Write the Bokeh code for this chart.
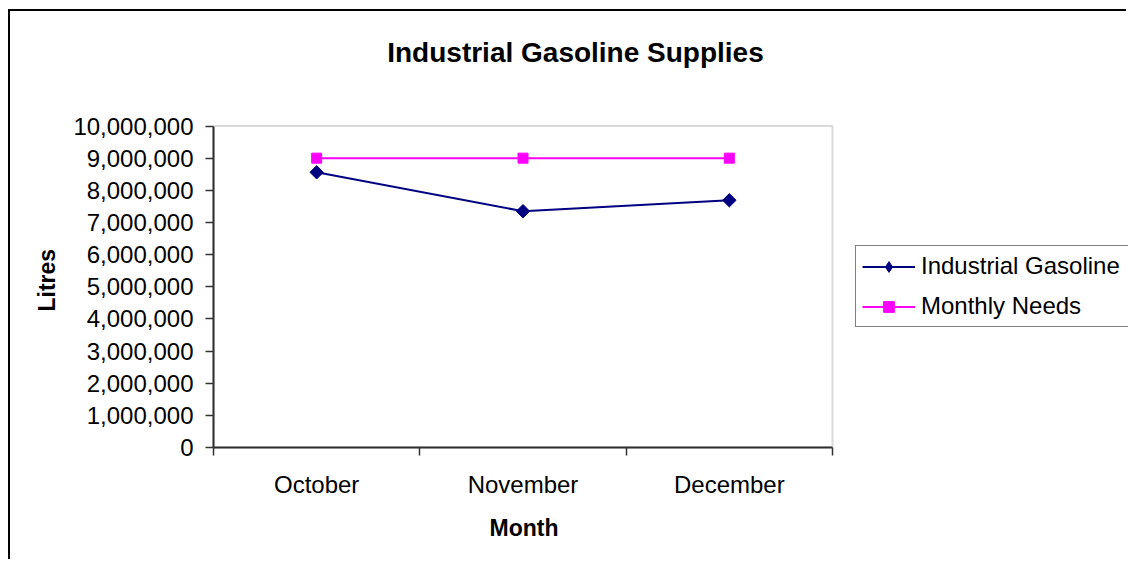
from bokeh.plotting import figure
from bokeh.models import (Range1d, FixedTicker, NumeralTickFormatter, Legend,
                          LegendItem, BoxAnnotation, Title, Label)
from bokeh.embed import file_html
from bokeh.resources import INLINE
import math

# ---- data ----
months = ["October", "November", "December"]
gasoline = [8_560_000, 7_350_000, 7_690_000]
needs = [9_000_000, 9_000_000, 9_000_000]
y_tick_values = [0, 1_000_000, 2_000_000, 3_000_000, 4_000_000, 5_000_000,
                 6_000_000, 7_000_000, 8_000_000, 9_000_000, 10_000_000]
title_text = "Industrial Gasoline Supplies"
x_title = "Month"
y_title = "Litres"
series_names = ["Industrial Gasoline", "Monthly Needs"]

xs = [i + 0.5 for i in range(len(months))]
boundaries = list(range(len(months) + 1))
y_max = y_tick_values[-1]

FONT = "Liberation Sans"

# ---- layout (pixels) ----
CANVAS_W, CANVAS_H = 1118, 550
LEFT, TOP, BOTTOM = 203, 0, 114
AREA_W = 619          # width of the plotted area inside the (larger) frame
AREA_H = 321.5        # height of the 0..max value span
frame_w = CANVAS_W - LEFT
frame_h = CANVAS_H - TOP - BOTTOM
x_end = len(months) * frame_w / AREA_W
y_end = y_max * frame_h / AREA_H

p = figure(width=CANVAS_W, height=CANVAS_H, output_backend="svg",
           toolbar_location=None,
           x_range=Range1d(0, x_end), y_range=Range1d(0, y_end),
           min_border_left=LEFT, min_border_right=0, min_border_top=TOP,
           min_border_bottom=BOTTOM)
p.styles = {"border-left": "2px solid #000000", "border-top": "2px solid #000000",
            "margin-left": "8px", "margin-top": "9px"}
p.background_fill_color = "white"
p.border_fill_color = "white"
p.outline_line_color = None
p.xgrid.visible = False
p.ygrid.visible = False

# plot-area border (gray)
p.add_layout(BoxAnnotation(left=0, right=len(months), bottom=0, top=y_max,
                           fill_alpha=0, line_color="#808080", line_width=2))

# chart title (screen coords measured from the frame's bottom-left)
p.add_layout(Label(x=362, y=395, x_units="screen", y_units="screen",
                   text=title_text, text_font=FONT, text_font_size="28px",
                   text_font_style="bold", text_align="center",
                   text_baseline="alphabetic", text_color="black"))

# y axis
ya = p.yaxis[0]
ya.bounds = (0, y_max)
ya.ticker = FixedTicker(ticks=y_tick_values)
ya.formatter = NumeralTickFormatter(format="0,0")
ya.major_label_text_font = FONT
ya.major_label_text_font_size = "24px"
ya.major_label_text_color = "black"
ya.major_tick_out = 8
ya.major_tick_in = 0
ya.major_tick_line_color = "#333333"
ya.major_tick_line_width = 1.5
ya.major_label_standoff = 12
ya.axis_line_color = "#222222"
ya.axis_line_width = 2

yt = Title(text=y_title, text_font=FONT, text_font_size="23px",
           text_font_style="bold", text_color="black", align="left",
           offset=136, vertical_align="bottom", standoff=22)
p.add_layout(yt, "left")

# x axis
xa = p.xaxis[0]
xa.bounds = (0, len(months))
xa.ticker = FixedTicker(ticks=xs, minor_ticks=boundaries)
xa.major_label_overrides = {x: m for x, m in zip(xs, months)}
xa.major_label_text_font = FONT
xa.major_label_text_font_size = "24px"
xa.major_label_text_color = "black"
xa.major_tick_out = 0
xa.major_tick_in = 0
xa.minor_tick_out = 8
xa.minor_tick_in = 0
xa.minor_tick_line_color = "#333333"
xa.minor_tick_line_width = 1.5
xa.major_label_standoff = 15
xa.axis_line_color = "#222222"
xa.axis_line_width = 2

mt = Title(text=x_title, text_font=FONT, text_font_size="23px",
           text_font_style="bold", text_color="black", align="left",
           offset=276, vertical_align="top", standoff=29)
p.add_layout(mt, "below")

# series
l1 = p.line(xs, gasoline, line_color="#000080", line_width=2)
s1 = p.scatter(xs, gasoline, marker="square", angle=math.pi / 4, size=9.5,
               fill_color="#000080", line_color="#000080")
s1_key = p.scatter(xs, gasoline, marker="diamond", size=12,
                   fill_color="#000080", line_color="#000080", visible=False)
l2 = p.line(xs, needs, line_color="#FF00FF", line_width=2)
s2 = p.scatter(xs, needs, marker="square", size=10,
               fill_color="#FF00FF", line_color="#FF00FF")

legend = Legend(items=[LegendItem(label=series_names[0], renderers=[l1, s1_key]),
                       LegendItem(label=series_names[1], renderers=[l2, s2])],
                location=(642, 120), orientation="vertical",
                label_text_font=FONT, label_text_font_size="24px",
                label_text_color="black",
                glyph_width=53, glyph_height=27, label_height=26,
                label_width=215, label_standoff=6, spacing=12, padding=6,
                margin=0, border_line_color="black", border_line_width=1,
                background_fill_color="white", background_fill_alpha=1.0,
                inactive_fill_alpha=0)
p.add_layout(legend)

open("out.html", "w").write(file_html(p, INLINE))
